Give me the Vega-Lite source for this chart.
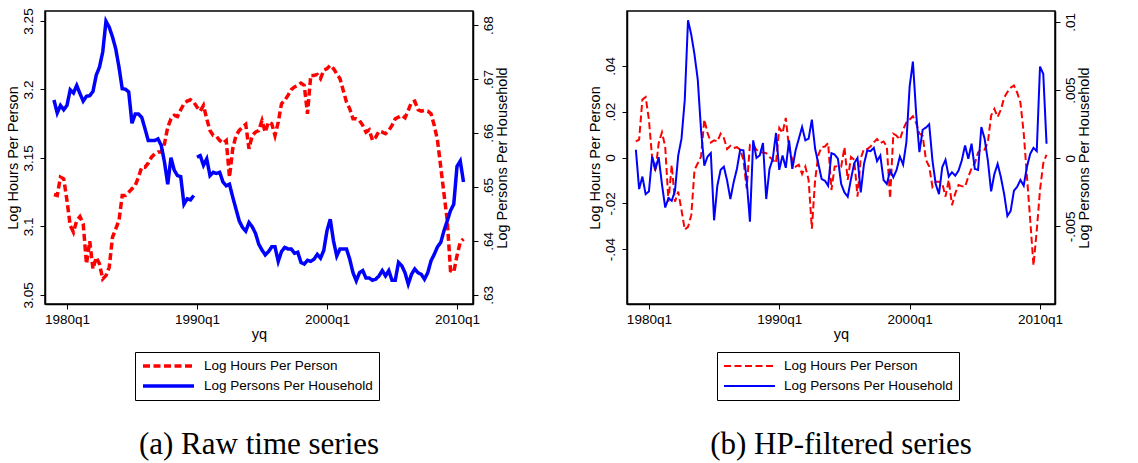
{
  "$schema": "https://vega.github.io/schema/vega-lite/v6.json",
  "background": "white",
  "padding": {"left": 4, "top": 7, "right": 5, "bottom": 5},
  "config": {
    "view": {"stroke": "black", "strokeWidth": 1.5},
    "axis": {"grid": false, "domainColor": "black", "domainWidth": 1.5, "tickColor": "black", "tickWidth": 1, "tickSize": 5, "labelColor": "black", "titleColor": "black", "labelFont": "Liberation Sans", "titleFont": "Liberation Sans", "labelFontSize": 13.5, "titleFontSize": 14.5, "titleFontWeight": "normal"},
    "legend": {"labelFont": "Liberation Sans", "labelFontSize": 13.5, "labelColor": "black", "labelLimit": 400}
  },
  "datasets": {
    "raw": [
      {"t":1979.0,"h":3.1233,"p":0.6661,"g":1},{"t":1979.25,"h":3.1226,"p":0.6637,"g":1},{"t":1979.5,"h":3.136,"p":0.6651,"g":1},{"t":1979.75,"h":3.1348,"p":0.6643,"g":1},
      {"t":1980.0,"h":3.119,"p":0.6651,"g":1},{"t":1980.25,"h":3.1007,"p":0.668,"g":1},{"t":1980.5,"h":3.0958,"p":0.6674,"g":1},{"t":1980.75,"h":3.1043,"p":0.6688,"g":1},
      {"t":1981.0,"h":3.1072,"p":0.6673,"g":1},{"t":1981.25,"h":3.1019,"p":0.6659,"g":1},{"t":1981.5,"h":3.0727,"p":0.6668,"g":1},{"t":1981.75,"h":3.0892,"p":0.6669,"g":1},
      {"t":1982.0,"h":3.069,"p":0.6677,"g":1},{"t":1982.25,"h":3.0775,"p":0.6707,"g":1},{"t":1982.5,"h":3.0727,"p":0.6722,"g":1},{"t":1982.75,"h":3.0617,"p":0.675,"g":1},
      {"t":1983.0,"h":3.0641,"p":0.6807,"g":1},{"t":1983.25,"h":3.0702,"p":0.6796,"g":1},{"t":1983.5,"h":3.0921,"p":0.6778,"g":1},{"t":1983.75,"h":3.0982,"p":0.6756,"g":1},
      {"t":1984.0,"h":3.1043,"p":0.6722,"g":1},{"t":1984.25,"h":3.1226,"p":0.6682,"g":1},{"t":1984.5,"h":3.1226,"p":0.6681,"g":1},{"t":1984.75,"h":3.125,"p":0.6676,"g":1},
      {"t":1985.0,"h":3.1275,"p":0.6618,"g":1},{"t":1985.25,"h":3.1299,"p":0.6635,"g":1},{"t":1985.5,"h":3.136,"p":0.6635,"g":1},{"t":1985.75,"h":3.1433,"p":0.6629,"g":1},
      {"t":1986.0,"h":3.1433,"p":0.6608,"g":1},{"t":1986.25,"h":3.1462,"p":0.6586,"g":1},{"t":1986.5,"h":3.1506,"p":0.6586,"g":1},{"t":1986.75,"h":3.153,"p":0.6586,"g":1},
      {"t":1987.0,"h":3.1543,"p":0.6589,"g":1},{"t":1987.25,"h":3.1543,"p":0.6577,"g":1},{"t":1987.5,"h":3.1604,"p":0.6546,"g":1},{"t":1987.75,"h":3.1725,"p":0.6505,"g":1},
      {"t":1988.0,"h":3.1786,"p":0.6554,"g":1},{"t":1988.25,"h":3.1811,"p":0.6531,"g":1},{"t":1988.5,"h":3.1803,"p":0.6521,"g":1},{"t":1988.75,"h":3.1852,"p":0.6519,"g":1},
      {"t":1989.0,"h":3.1896,"p":0.6468,"g":1},{"t":1989.25,"h":3.1915,"p":0.6478,"g":1},{"t":1989.5,"h":3.1925,"p":0.6476,"g":1},{"t":1989.75,"h":3.1908,"p":0.6484,"g":1},
      {"t":1990.0,"h":3.1872,"p":0.6555,"g":2},{"t":1990.25,"h":3.1842,"p":0.6558,"g":2},{"t":1990.5,"h":3.1884,"p":0.654,"g":2},{"t":1990.75,"h":3.1786,"p":0.6552,"g":2},
      {"t":1991.0,"h":3.1701,"p":0.6521,"g":2},{"t":1991.25,"h":3.1664,"p":0.6527,"g":2},{"t":1991.5,"h":3.1657,"p":0.6525,"g":2},{"t":1991.75,"h":3.1628,"p":0.6527,"g":2},
      {"t":1992.0,"h":3.1608,"p":0.6509,"g":2},{"t":1992.25,"h":3.1628,"p":0.6502,"g":2},{"t":1992.5,"h":3.136,"p":0.6505,"g":2},{"t":1992.75,"h":3.1567,"p":0.6481,"g":2},
      {"t":1993.0,"h":3.1664,"p":0.6459,"g":2},{"t":1993.25,"h":3.1701,"p":0.6437,"g":2},{"t":1993.5,"h":3.1725,"p":0.6425,"g":2},{"t":1993.75,"h":3.1745,"p":0.6418,"g":2},
      {"t":1994.0,"h":3.1567,"p":0.6434,"g":2},{"t":1994.25,"h":3.1664,"p":0.6426,"g":2},{"t":1994.5,"h":3.1689,"p":0.6414,"g":2},{"t":1994.75,"h":3.1701,"p":0.6394,"g":2},
      {"t":1995.0,"h":3.1774,"p":0.6383,"g":2},{"t":1995.25,"h":3.1689,"p":0.6374,"g":2},{"t":1995.5,"h":3.1762,"p":0.638,"g":2},{"t":1995.75,"h":3.175,"p":0.6389,"g":2},
      {"t":1996.0,"h":3.1664,"p":0.6389,"g":2},{"t":1996.25,"h":3.1762,"p":0.6362,"g":2},{"t":1996.5,"h":3.1896,"p":0.638,"g":2},{"t":1996.75,"h":3.192,"p":0.6388,"g":2},
      {"t":1997.0,"h":3.1957,"p":0.6385,"g":2},{"t":1997.25,"h":3.1998,"p":0.6385,"g":2},{"t":1997.5,"h":3.2018,"p":0.6377,"g":2},{"t":1997.75,"h":3.203,"p":0.6379,"g":2},
      {"t":1998.0,"h":3.2047,"p":0.636,"g":2},{"t":1998.25,"h":3.203,"p":0.6357,"g":2},{"t":1998.5,"h":3.1823,"p":0.6364,"g":2},{"t":1998.75,"h":3.2103,"p":0.6362,"g":2},
      {"t":1999.0,"h":3.2103,"p":0.6366,"g":2},{"t":1999.25,"h":3.211,"p":0.6375,"g":2},{"t":1999.5,"h":3.2079,"p":0.6368,"g":2},{"t":1999.75,"h":3.214,"p":0.6382,"g":2},
      {"t":2000.0,"h":3.2152,"p":0.6419,"g":2},{"t":2000.25,"h":3.2176,"p":0.644,"g":2},{"t":2000.5,"h":3.2152,"p":0.64,"g":2},{"t":2000.75,"h":3.2115,"p":0.6372,"g":2},
      {"t":2001.0,"h":3.2079,"p":0.6385,"g":2},{"t":2001.25,"h":3.1993,"p":0.6385,"g":2},{"t":2001.5,"h":3.1908,"p":0.6385,"g":2},{"t":2001.75,"h":3.1859,"p":0.6366,"g":2},
      {"t":2002.0,"h":3.1786,"p":0.6341,"g":2},{"t":2002.25,"h":3.1786,"p":0.6326,"g":2},{"t":2002.5,"h":3.1774,"p":0.6341,"g":2},{"t":2002.75,"h":3.1738,"p":0.6345,"g":2},
      {"t":2003.0,"h":3.1689,"p":0.6331,"g":2},{"t":2003.25,"h":3.1706,"p":0.6331,"g":2},{"t":2003.5,"h":3.1628,"p":0.6327,"g":2},{"t":2003.75,"h":3.1652,"p":0.6329,"g":2},
      {"t":2004.0,"h":3.1696,"p":0.6335,"g":2},{"t":2004.25,"h":3.1689,"p":0.6345,"g":2},{"t":2004.5,"h":3.1677,"p":0.6335,"g":2},{"t":2004.75,"h":3.1701,"p":0.6345,"g":2},
      {"t":2005.0,"h":3.1738,"p":0.6327,"g":2},{"t":2005.25,"h":3.1786,"p":0.6327,"g":2},{"t":2005.5,"h":3.1798,"p":0.636,"g":2},{"t":2005.75,"h":3.1811,"p":0.6354,"g":2},
      {"t":2006.0,"h":3.1794,"p":0.6341,"g":2},{"t":2006.25,"h":3.1847,"p":0.632,"g":2},{"t":2006.5,"h":3.1908,"p":0.6338,"g":2},{"t":2006.75,"h":3.1915,"p":0.6348,"g":2},
      {"t":2007.0,"h":3.1852,"p":0.6341,"g":2},{"t":2007.25,"h":3.1842,"p":0.6338,"g":2},{"t":2007.5,"h":3.1847,"p":0.6329,"g":2},{"t":2007.75,"h":3.1842,"p":0.6341,"g":2},
      {"t":2008.0,"h":3.1823,"p":0.6363,"g":2},{"t":2008.25,"h":3.1738,"p":0.6375,"g":2},{"t":2008.5,"h":3.1628,"p":0.6389,"g":2},{"t":2008.75,"h":3.1433,"p":0.6397,"g":2},
      {"t":2009.0,"h":3.1238,"p":0.6419,"g":2},{"t":2009.25,"h":3.1043,"p":0.6437,"g":2},{"t":2009.5,"h":3.0678,"p":0.6456,"g":2},{"t":2009.75,"h":3.0666,"p":0.6468,"g":2},
      {"t":2010.0,"h":3.0787,"p":0.6538,"g":2},{"t":2010.25,"h":3.0885,"p":0.6548,"g":2},{"t":2010.5,"h":3.0909,"p":0.6509,"g":2}
    ],
    "hp": [
      {"t":1979.0,"h":0.007,"p":0.00062},{"t":1979.25,"h":0.0078,"p":-0.00227},{"t":1979.5,"h":0.0253,"p":-0.00135},{"t":1979.75,"h":0.0264,"p":-0.00264},
      {"t":1980.0,"h":0.0166,"p":-0.00244},{"t":1980.25,"h":-0.0003,"p":0.00012},{"t":1980.5,"h":-0.0062,"p":-0.00079},{"t":1980.75,"h":0.0063,"p":0.00007},
      {"t":1981.0,"h":0.011,"p":-0.0019},{"t":1981.25,"h":0.0048,"p":-0.00362},{"t":1981.5,"h":-0.0193,"p":-0.00293},{"t":1981.75,"h":-0.0032,"p":-0.00313},
      {"t":1982.0,"h":-0.0193,"p":-0.00239},{"t":1982.25,"h":-0.0149,"p":0.0002},{"t":1982.5,"h":-0.023,"p":0.00143},{"t":1982.75,"h":-0.0315,"p":0.00426},
      {"t":1983.0,"h":-0.0303,"p":0.01012},{"t":1983.25,"h":-0.0252,"p":0.00906},{"t":1983.5,"h":-0.0054,"p":0.00759},{"t":1983.75,"h":-0.0025,"p":0.00574},
      {"t":1984.0,"h":0.0004,"p":0.00204},{"t":1984.25,"h":0.0166,"p":-0.00054},{"t":1984.5,"h":0.0107,"p":0.00012},{"t":1984.75,"h":0.0066,"p":0.00037},
      {"t":1985.0,"h":0.0075,"p":-0.00456},{"t":1985.25,"h":0.007,"p":-0.00202},{"t":1985.5,"h":0.0104,"p":-0.00086},{"t":1985.75,"h":0.0085,"p":-0.00062},
      {"t":1986.0,"h":0.0037,"p":-0.00165},{"t":1986.25,"h":0.0051,"p":-0.003},{"t":1986.5,"h":0.0041,"p":-0.00177},{"t":1986.75,"h":0.0045,"p":-0.00079},
      {"t":1987.0,"h":0.0034,"p":0.00062},{"t":1987.25,"h":-0.001,"p":0.00057},{"t":1987.5,"h":-0.0135,"p":-0.00165},{"t":1987.75,"h":0.0056,"p":-0.00466},
      {"t":1988.0,"h":0.0056,"p":0.00131},{"t":1988.25,"h":0.0034,"p":0.00002},{"t":1988.5,"h":0.0022,"p":0.0002},{"t":1988.75,"h":0.0022,"p":0.00111},
      {"t":1989.0,"h":0.0019,"p":-0.003},{"t":1989.25,"h":0.0002,"p":-0.00079},{"t":1989.5,"h":-0.001,"p":-0.00005},{"t":1989.75,"h":-0.0025,"p":0.00185},
      {"t":1990.0,"h":0.0129,"p":-0.00086},{"t":1990.25,"h":0.0107,"p":0.0002},{"t":1990.5,"h":0.0173,"p":-0.00071},{"t":1990.75,"h":0.0041,"p":0.00131},
      {"t":1991.0,"h":-0.001,"p":-0.00079},{"t":1991.25,"h":-0.004,"p":0.00057},{"t":1991.5,"h":-0.0032,"p":0.00143},{"t":1991.75,"h":-0.0072,"p":0.00229},
      {"t":1992.0,"h":-0.004,"p":0.00131},{"t":1992.25,"h":-0.0098,"p":0.00143},{"t":1992.5,"h":-0.0311,"p":0.00283},{"t":1992.75,"h":-0.0098,"p":0.00069},
      {"t":1993.0,"h":0.0012,"p":-0.00042},{"t":1993.25,"h":0.0045,"p":-0.00153},{"t":1993.5,"h":0.0048,"p":-0.00165},{"t":1993.75,"h":0.0063,"p":-0.00202},
      {"t":1994.0,"h":-0.0142,"p":0.00037},{"t":1994.25,"h":-0.004,"p":0.00027},{"t":1994.5,"h":-0.0037,"p":-0.00005},{"t":1994.75,"h":-0.004,"p":-0.0019},
      {"t":1995.0,"h":0.0045,"p":-0.00251},{"t":1995.25,"h":-0.0098,"p":-0.00283},{"t":1995.5,"h":0.0002,"p":-0.00153},{"t":1995.75,"h":-0.001,"p":-0.00037},
      {"t":1996.0,"h":-0.0171,"p":0.00002},{"t":1996.25,"h":-0.0003,"p":-0.00251},{"t":1996.5,"h":0.0037,"p":-0.00042},{"t":1996.75,"h":0.0037,"p":0.00057},
      {"t":1997.0,"h":0.0048,"p":0.00052},{"t":1997.25,"h":0.0066,"p":0.00076},{"t":1997.5,"h":0.0081,"p":-0.00022},{"t":1997.75,"h":0.0063,"p":0.0002},
      {"t":1998.0,"h":0.007,"p":-0.0016},{"t":1998.25,"h":0.0048,"p":-0.0019},{"t":1998.5,"h":-0.0179,"p":-0.00091},{"t":1998.75,"h":0.0104,"p":-0.0014},
      {"t":1999.0,"h":0.0095,"p":-0.00086},{"t":1999.25,"h":0.0078,"p":0.00012},{"t":1999.5,"h":0.0122,"p":-0.00047},{"t":1999.75,"h":0.0154,"p":0.00118},
      {"t":2000.0,"h":0.0166,"p":0.00525},{"t":2000.25,"h":0.018,"p":0.00709},{"t":2000.5,"h":0.0151,"p":0.00328},{"t":2000.75,"h":0.0104,"p":0.00044},
      {"t":2001.0,"h":0.0095,"p":0.00209},{"t":2001.25,"h":-0.001,"p":0.00224},{"t":2001.5,"h":-0.004,"p":0.00249},{"t":2001.75,"h":-0.0128,"p":-0.00017},
      {"t":2002.0,"h":-0.0106,"p":-0.0019},{"t":2002.25,"h":-0.0106,"p":-0.00264},{"t":2002.5,"h":-0.0113,"p":-0.00067},{"t":2002.75,"h":-0.0171,"p":-0.00012},
      {"t":2003.0,"h":-0.0098,"p":-0.00135},{"t":2003.25,"h":-0.0208,"p":-0.00103},{"t":2003.5,"h":-0.0157,"p":-0.00128},{"t":2003.75,"h":-0.012,"p":-0.00091},
      {"t":2004.0,"h":-0.0125,"p":-0.00017},{"t":2004.25,"h":-0.0128,"p":0.00094},{"t":2004.5,"h":-0.0084,"p":-0.00005},{"t":2004.75,"h":-0.0047,"p":0.00106},
      {"t":2005.0,"h":-0.0025,"p":-0.00079},{"t":2005.25,"h":0.0022,"p":-0.00086},{"t":2005.5,"h":0.0037,"p":0.00229},{"t":2005.75,"h":0.0034,"p":0.00143},
      {"t":2006.0,"h":0.0066,"p":-0.00017},{"t":2006.25,"h":0.0183,"p":-0.00244},{"t":2006.5,"h":0.0212,"p":-0.00116},{"t":2006.75,"h":0.0177,"p":-0.00042},
      {"t":2007.0,"h":0.0209,"p":-0.0014},{"t":2007.25,"h":0.0261,"p":-0.00264},{"t":2007.5,"h":0.0286,"p":-0.00424},{"t":2007.75,"h":0.0305,"p":-0.00387},
      {"t":2008.0,"h":0.0315,"p":-0.00239},{"t":2008.25,"h":0.0283,"p":-0.00209},{"t":2008.5,"h":0.0239,"p":-0.0016},{"t":2008.75,"h":0.0107,"p":-0.00202},
      {"t":2009.0,"h":-0.0084,"p":-0.00062},{"t":2009.25,"h":-0.0274,"p":0.00032},{"t":2009.5,"h":-0.0472,"p":0.00076},{"t":2009.75,"h":-0.0318,"p":0.00052},
      {"t":2010.0,"h":-0.0142,"p":0.00672},{"t":2010.25,"h":-0.0025,"p":0.00618},{"t":2010.5,"h":0.0012,"p":0.00106}
    ]
  },
  "spacing": 76,
  "resolve": {
    "scale": {"x": "independent", "y": "independent", "color": "independent", "strokeDash": "independent"},
    "legend": {"color": "independent", "strokeDash": "independent"}
  },
  "hconcat": [
    {
      "width": 428,
      "height": 293,
      "title": {"text": "(a) Raw time series", "orient": "bottom", "anchor": "middle", "frame": "group", "font": "Liberation Serif", "fontSize": 31, "fontWeight": "normal", "color": "black", "offset": 29},
      "data": {"name": "raw"},
      "transform": [{"fold": ["h", "p"], "as": ["s", "v"]}],
      "encoding": {
        "x": {"field": "t", "type": "quantitative", "scale": {"domain": [1978.31, 2011.23], "nice": false, "zero": false},
          "axis": {"values": [1980, 1990, 2000, 2010], "labelExpr": "datum.value + 'q1'", "title": "yq", "labelPadding": 3, "titlePadding": 2, "labelFlush": false}}
      },
      "layer": [
        {
          "transform": [{"filter": "datum.s == 'h'"}],
          "mark": {"type": "line", "strokeWidth": 3.5},
          "encoding": {
            "y": {"field": "v", "type": "quantitative", "scale": {"domain": [3.0434, 3.2573], "nice": false, "zero": false},
              "axis": {"orient": "left", "values": [3.05, 3.1, 3.15, 3.2, 3.25], "labelExpr": "replace('' + datum.value, '0.', '.')", "labelAngle": 270, "labelAlign": "center", "labelBaseline": "bottom", "labelPadding": 5, "title": "Log Hours Per Person", "titlePadding": 1}},
            "color": {"field": "s", "type": "nominal", "scale": {"domain": ["h", "p"], "range": ["#ff0000", "#0000ff"]},
              "legend": {"title": null, "orient": "none", "legendX": 90, "legendY": 341, "direction": "vertical", "strokeColor": "black", "fillColor": "white", "padding": 6, "symbolType": "stroke", "symbolSize": 2601, "symbolStrokeWidth": 3.5, "labelOffset": 8, "clipHeight": 16, "rowPadding": 4, "labelLimit": 400, "labelExpr": "datum.label == 'h' ? 'Log Hours Per Person' : 'Log Persons Per Household'"}},
            "strokeDash": {"field": "s", "type": "nominal", "scale": {"domain": ["h", "p"], "range": [[7, 3.5], [1, 0]]},
              "legend": {"title": null, "orient": "none", "legendX": 90, "legendY": 341, "direction": "vertical", "strokeColor": "black", "fillColor": "white", "padding": 6, "symbolType": "stroke", "symbolSize": 2601, "symbolStrokeWidth": 3.5, "labelOffset": 8, "clipHeight": 16, "rowPadding": 4, "labelLimit": 400, "labelExpr": "datum.label == 'h' ? 'Log Hours Per Person' : 'Log Persons Per Household'"}}
          }
        },
        {
          "transform": [{"filter": "datum.s == 'p'"}],
          "mark": {"type": "line", "strokeWidth": 3.5},
          "encoding": {
            "y": {"field": "v", "type": "quantitative", "scale": {"domain": [0.6283, 0.6826], "nice": false, "zero": false},
              "axis": {"orient": "right", "values": [0.63, 0.64, 0.65, 0.66, 0.67, 0.68], "labelExpr": "replace('' + datum.value, '0.', '.')", "labelAngle": 270, "labelAlign": "center", "labelBaseline": "top", "labelPadding": 3, "title": "Log Persons Per Household", "titleAngle": 270, "titleBaseline": "top", "titlePadding": 1}},
            "color": {"field": "s", "type": "nominal"},
            "strokeDash": {"field": "s", "type": "nominal"},
            "detail": {"field": "g", "type": "nominal"}
          }
        }
      ],
      "resolve": {"scale": {"y": "independent"}}
    },
    {
      "width": 428,
      "height": 293,
      "title": {"text": "(b) HP-filtered series", "orient": "bottom", "anchor": "middle", "frame": "group", "font": "Liberation Serif", "fontSize": 31, "fontWeight": "normal", "color": "black", "offset": 29},
      "data": {"name": "hp"},
      "transform": [{"fold": ["h", "p"], "as": ["s", "v"]}],
      "encoding": {
        "x": {"field": "t", "type": "quantitative", "scale": {"domain": [1978.32, 2011.15], "nice": false, "zero": false},
          "axis": {"values": [1980, 1990, 2000, 2010], "labelExpr": "datum.value + 'q1'", "title": "yq", "labelPadding": 3, "titlePadding": 2, "labelFlush": false}}
      },
      "layer": [
        {
          "transform": [{"filter": "datum.s == 'h'"}],
          "mark": {"type": "line", "strokeWidth": 2},
          "encoding": {
            "y": {"field": "v", "type": "quantitative", "scale": {"domain": [-0.064, 0.064], "nice": false, "zero": false},
              "axis": {"orient": "left", "values": [-0.04, -0.02, 0, 0.02, 0.04], "labelExpr": "replace('' + datum.value, '0.', '.')", "labelAngle": 270, "labelAlign": "center", "labelBaseline": "bottom", "labelPadding": 5, "title": "Log Hours Per Person", "titlePadding": 1}},
            "color": {"field": "s", "type": "nominal", "scale": {"domain": ["h", "p"], "range": ["#ff0000", "#0000ff"]},
              "legend": {"title": null, "orient": "none", "legendX": 90, "legendY": 341, "direction": "vertical", "strokeColor": "black", "fillColor": "white", "padding": 6, "symbolType": "stroke", "symbolSize": 2601, "symbolStrokeWidth": 2, "labelOffset": 8, "clipHeight": 16, "rowPadding": 4, "labelLimit": 400, "labelExpr": "datum.label == 'h' ? 'Log Hours Per Person' : 'Log Persons Per Household'"}},
            "strokeDash": {"field": "s", "type": "nominal", "scale": {"domain": ["h", "p"], "range": [[7, 3.5], [1, 0]]},
              "legend": {"title": null, "orient": "none", "legendX": 90, "legendY": 341, "direction": "vertical", "strokeColor": "black", "fillColor": "white", "padding": 6, "symbolType": "stroke", "symbolSize": 2601, "symbolStrokeWidth": 2, "labelOffset": 8, "clipHeight": 16, "rowPadding": 4, "labelLimit": 400, "labelExpr": "datum.label == 'h' ? 'Log Hours Per Person' : 'Log Persons Per Household'"}}
          }
        },
        {
          "transform": [{"filter": "datum.s == 'p'"}],
          "mark": {"type": "line", "strokeWidth": 2},
          "encoding": {
            "y": {"field": "v", "type": "quantitative", "scale": {"domain": [-0.0107, 0.0108], "nice": false, "zero": false},
              "axis": {"orient": "right", "values": [-0.005, 0, 0.005, 0.01], "labelExpr": "replace('' + datum.value, '0.', '.')", "labelAngle": 270, "labelAlign": "center", "labelBaseline": "top", "labelPadding": 3, "title": "Log Persons Per Household", "titleAngle": 270, "titleBaseline": "top", "titlePadding": 1}},
            "color": {"field": "s", "type": "nominal"},
            "strokeDash": {"field": "s", "type": "nominal"}
          }
        }
      ],
      "resolve": {"scale": {"y": "independent"}}
    }
  ]
}
